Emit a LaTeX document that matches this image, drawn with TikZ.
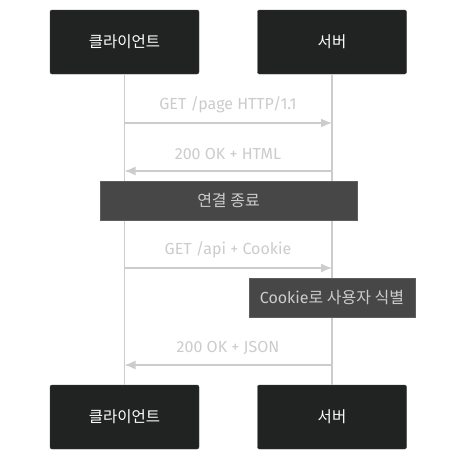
\documentclass[tikz,border=0pt]{standalone}
\usepackage{fontspec}
\setmainfont{Fira Sans}
\newfontfamily\kr{Noto Sans CJK KR}
\usetikzlibrary{arrows.meta}
\definecolor{actorfill}{HTML}{212322}
\definecolor{actorline}{HTML}{3A3C3B}
\definecolor{notefill}{HTML}{474747}
\definecolor{noteline}{HTML}{5E5E5E}
\definecolor{msgcol}{HTML}{CCCCCC}
\tikzset{
  actor/.style={draw=actorline, fill=actorfill, rounded corners=2pt, minimum width=149pt, minimum height=64pt, text=white, font=\kr\fontsize{15.5}{18}\selectfont},
  note/.style={draw=noteline, fill=notefill, text=msgcol, font=\fontsize{16}{18}\selectfont, minimum height=39pt},
  life/.style={draw=msgcol, line width=1.5pt},
  msg/.style={draw=msgcol, line width=1.5pt, -{Latex[length=11pt,width=9pt]}},
  lbl/.style={text=msgcol, font=\fontsize{16}{18}\selectfont}
}
\begin{document}
\begin{tikzpicture}[x=1pt,y=-1pt]
  \useasboundingbox[fill=white] (0,0) rectangle (465,461);
  % actors
  \node[actor] (client) at (124.5,42) {클라이언트};
  \node[actor] (server) at (332,42) {서버};
  \node[actor] (clientb) at (124.5,417) {클라이언트};
  \node[actor] (serverb) at (332,417) {서버};
  \draw[life] (client) -- (clientb);
  \draw[life] (server) -- (serverb);
  % messages
  \coordinate (c1) at (client.south |- 0,123);
  \coordinate (s1) at (server.south |- 0,123);
  \draw[msg] (c1) -- (s1);
  \node[lbl] (m1) at (228,104.5) {GET /page HTTP/1.1};
  \coordinate (c2) at (client.south |- 0,171);
  \coordinate (s2) at (server.south |- 0,171);
  \draw[msg] (s2) -- (c2);
  \node[lbl] (m2) at (228,153.5) {200 OK + HTML};
  \node[note, minimum width=257pt] (close) at (228.5,200.5) {\kr 연결 종료};
  \coordinate (c3) at (client.south |- 0,268);
  \coordinate (s3) at (server.south |- 0,268);
  \draw[msg] (c3) -- (s3);
  \node[lbl] (m3) at (228,249.5) {GET /api + Cookie};
  \node[note, minimum width=166pt] (ident) at (332,297.5) {Cookie{\kr 로 사용자 식별}};
  \coordinate (c4) at (client.south |- 0,365);
  \coordinate (s4) at (server.south |- 0,365);
  \draw[msg] (s4) -- (c4);
  \node[lbl] (m4) at (228,347.5) {200 OK + JSON};
\end{tikzpicture}
\end{document}
